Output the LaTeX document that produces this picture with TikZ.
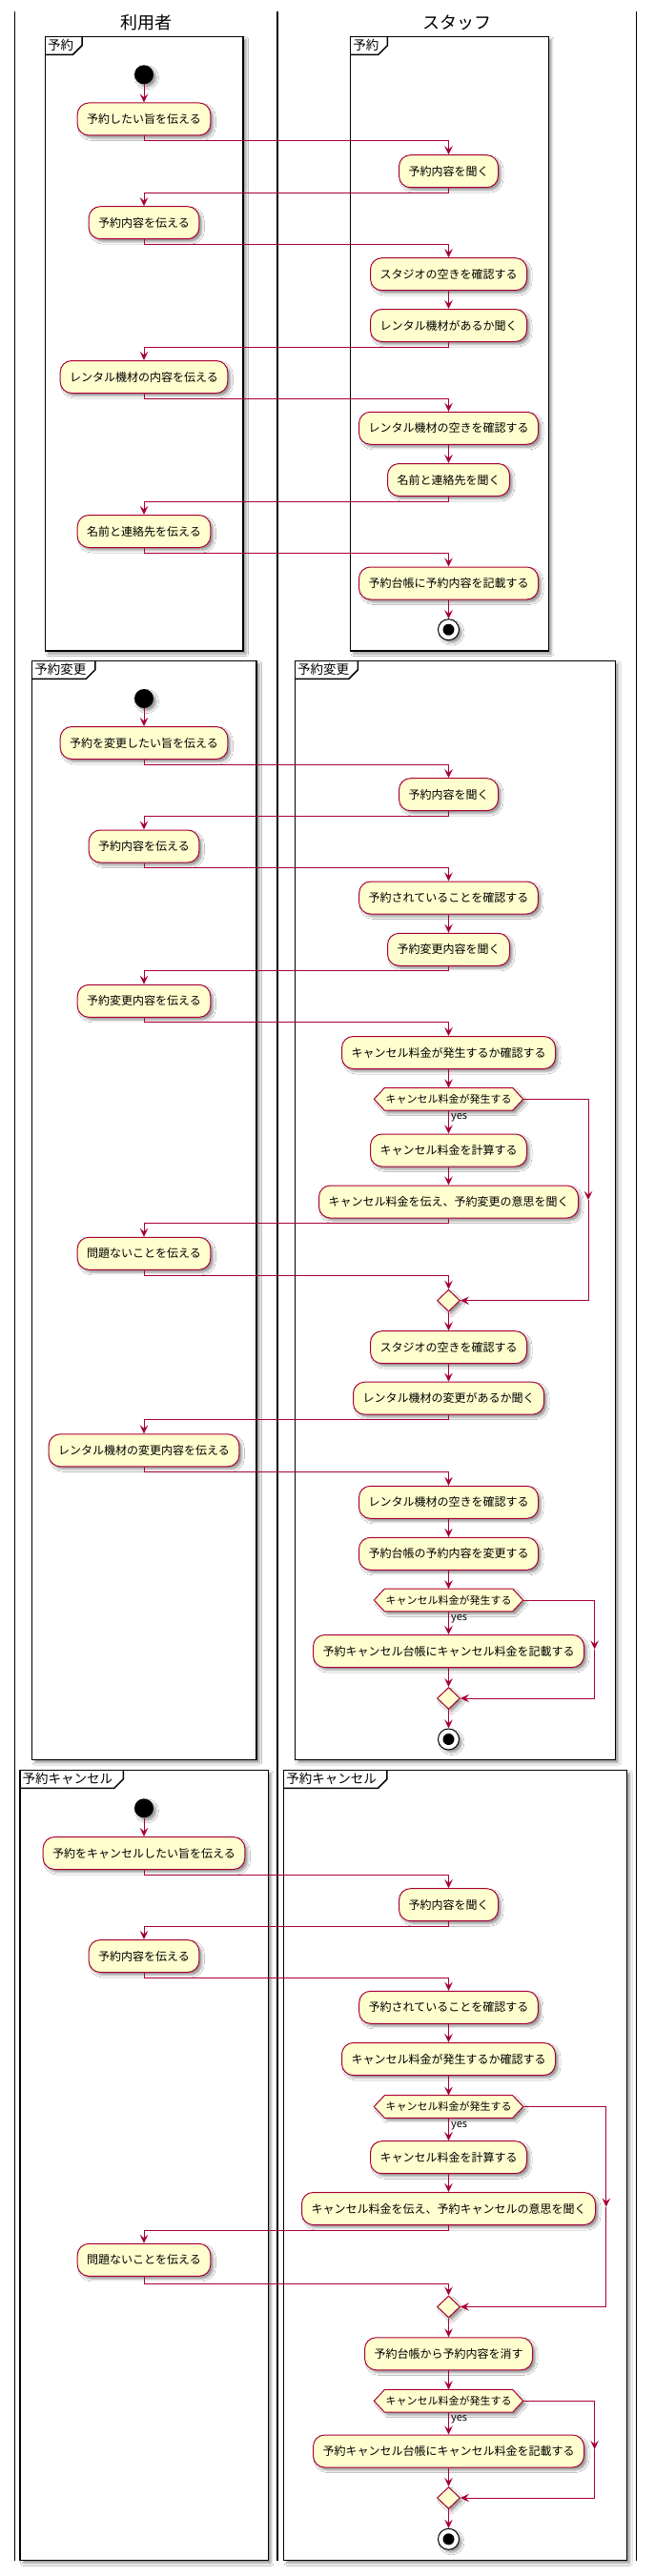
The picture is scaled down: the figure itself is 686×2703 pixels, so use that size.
\documentclass[tikz,border=0pt]{standalone}
\usepackage{fontspec}
\setmainfont{Noto Sans CJK JP}
\usetikzlibrary{arrows.meta,shapes.geometric,shadows.blur,calc}
\definecolor{pbord}{HTML}{A80036}
\definecolor{pfill}{HTML}{FEFECE}
\tikzset{
  x=1pt,y=-1pt,
  sh/.style={blur shadow={shadow xshift=3pt,shadow yshift=-3pt,shadow blur radius=2.5pt,shadow opacity=40}},
  act/.style={draw=pbord,fill=pfill,line width=1pt,rounded corners=12pt,minimum height=34pt,
    inner xsep=10pt,inner ysep=0pt,font=\fontsize{12}{14}\selectfont,text height=10.5pt,text depth=1.5pt,sh},
  flow/.style={draw=pbord,line width=1pt,-{Stealth[length=9pt,width=8.5pt,inset=3.5pt]}},
  dectext/.style={inner xsep=1pt,inner ysep=0pt,minimum height=23.3pt,font=\fontsize{11}{13}\selectfont,
    text height=9.6pt,text depth=1.4pt},
  decshape/.style={draw=pbord,fill=pfill,line width=1pt,sh},
  merge/.style={diamond,draw=pbord,fill=pfill,line width=1pt,minimum width=24pt,minimum height=23pt,inner sep=0pt,sh},
  startdot/.style={circle,fill=black,minimum size=20pt,inner sep=0pt,sh},
  stopdot/.style={circle,draw=black,line width=1pt,fill=white,minimum size=22pt,inner sep=0pt,sh,
    path picture={\fill[black] (path picture bounding box.center) circle[radius=6pt];}},
  yeslab/.style={anchor=west,inner sep=0pt,font=\fontsize{11}{13}\selectfont},
  lanetitle/.style={inner sep=0pt,font=\fontsize{18}{20}\selectfont},
  framelab/.style={anchor=west,inner sep=0pt,font=\fontsize{13.5}{15}\selectfont},
  frameline/.style={draw=black,line width=1.5pt},
  laneline/.style={draw=black,line width=1.5pt},
}
\newcommand\mkdec[3]{%
  \node[dectext] (#1) at (470.5,#2) {\phantom{#3}};
  \coordinate (#1w) at ([xshift=-11pt]#1.west);
  \coordinate (#1e) at ([xshift=11pt]#1.east);
  \draw[decshape] (#1w) -- (#1.north west) -- (#1.north east) -- (#1e) -- (#1.south east) -- (#1.south west) -- cycle;
  \node[dectext] (#1t) at (#1.center) {#3};
  \node[yeslab] (#1y) at ([xshift=2.5pt,yshift=-8pt]#1.south) {yes};
}
\newcommand\mkframe[6]{% left top right bottom tabright label
  \draw[frameline,fill=white,sh] (#1,#2) rectangle (#3,#4);
  \draw[frameline] (#1,#2+19) -- (#5-9.5,#2+19) -- (#5,#2+9.5) -- (#5,#2);
  \node[framelab] at (#1+2.5,#2+9.5) {#6};
}
\begin{document}
\begin{tikzpicture}
\useasboundingbox[fill=white] (0,0) rectangle (686,2703);
% lanes
\draw[laneline] (15.3,12) -- (15.3,2687);
\draw[laneline] (291,12) -- (291,2687);
\draw[laneline] (667.3,12) -- (667.3,2687);
\node[lanetitle] (lt1) at (153.2,24) {利用者};
\node[lanetitle] (lt2) at (479.2,24) {スタッフ};
% frames
\mkframe{47.3}{38.3}{255.1}{683}{86}{予約}
\mkframe{367.6}{38.3}{575.4}{683}{406.3}{予約}
\mkframe{33.7}{693.3}{269.1}{1846.7}{99.8}{予約変更}
\mkframe{309.4}{693.3}{645.5}{1846.7}{375.4}{予約変更}
\mkframe{21}{1857.3}{281.4}{2686.7}{129.3}{予約キャンセル}
\mkframe{297.6}{1857.3}{657.7}{2686.7}{405.9}{予約キャンセル}

% ---------- section 1
\node[startdot] (s1) at (151,78.3) {};
\node[act] (a1) at (151,125) {予約したい旨を伝える};
\node[act] (b1) at (470.5,179.7) {予約内容を聞く};
\node[act] (a2) at (151,233.7) {予約内容を伝える};
\node[act] (b2) at (470.5,287.7) {スタジオの空きを確認する};
\node[act] (b3) at (470.5,341.5) {レンタル機材があるか聞く};
\node[act] (a3) at (151,395.5) {レンタル機材の内容を伝える};
\node[act] (b4) at (470.5,449.3) {レンタル機材の空きを確認する};
\node[act] (b5) at (470.5,503.5) {名前と連絡先を聞く};
\node[act] (a4) at (151,557.5) {名前と連絡先を伝える};
\node[act] (b6) at (470.5,612) {予約台帳に予約内容を記載する};
\node[stopdot] (e1) at (470.5,660.7) {};
\draw[flow] (s1) -- (a1);
\draw[flow] (a1.south) -- ++(0,5) -| (b1.north);
\draw[flow] (b1.south) -- ++(0,5) -| (a2.north);
\draw[flow] (a2.south) -- ++(0,5) -| (b2.north);
\draw[flow] (b2) -- (b3);
\draw[flow] (b3.south) -- ++(0,5) -| (a3.north);
\draw[flow] (a3.south) -- ++(0,5) -| (b4.north);
\draw[flow] (b4) -- (b5);
\draw[flow] (b5.south) -- ++(0,5) -| (a4.north);
\draw[flow] (a4.south) -- ++(0,5) -| (b6.north);
\draw[flow] (b6) -- (e1);

% ---------- section 2
\node[startdot] (s2) at (151,733) {};
\node[act] (c1) at (151,779.5) {予約を変更したい旨を伝える};
\node[act] (d1) at (470.5,833.7) {予約内容を聞く};
\node[act] (c2) at (151,888) {予約内容を伝える};
\node[act] (d2) at (470.5,942) {予約されていることを確認する};
\node[act] (d3) at (470.5,996.3) {予約変更内容を聞く};
\node[act] (c3) at (151,1050.3) {予約変更内容を伝える};
\node[act] (d4) at (470.5,1104.5) {キャンセル料金が発生するか確認する};
\mkdec{q1}{1153.3}{キャンセル料金が発生する}
\node[act] (d5) at (470.5,1207) {キャンセル料金を計算する};
\node[act] (d6) at (470.5,1261) {キャンセル料金を伝え、予約変更の意思を聞く};
\node[act] (c4) at (151,1315.3) {問題ないことを伝える};
\node[merge] (m1) at (470.5,1364.7) {};
\node[act] (d7) at (470.5,1413.7) {スタジオの空きを確認する};
\node[act] (d8) at (470.5,1467.2) {レンタル機材の変更があるか聞く};
\node[act] (c5) at (151,1521.8) {レンタル機材の変更内容を伝える};
\node[act] (d9) at (470.5,1576.3) {レンタル機材の空きを確認する};
\node[act] (d10) at (470.5,1630.3) {予約台帳の予約内容を変更する};
\mkdec{q2}{1679}{キャンセル料金が発生する}
\node[act] (d11) at (470.5,1732.5) {予約キャンセル台帳にキャンセル料金を記載する};
\node[merge] (m2) at (470.5,1782) {};
\node[stopdot] (e2) at (470.5,1825) {};
\coordinate (k1) at (617,1259);
\coordinate (k2) at (623.6,1730.5);
\draw[flow] (s2) -- (c1);
\draw[flow] (c1.south) -- ++(0,5) -| (d1.north);
\draw[flow] (d1.south) -- ++(0,5) -| (c2.north);
\draw[flow] (c2.south) -- ++(0,5) -| (d2.north);
\draw[flow] (d2) -- (d3);
\draw[flow] (d3.south) -- ++(0,5) -| (c3.north);
\draw[flow] (c3.south) -- ++(0,5) -| (d4.north);
\draw[flow] (d4.south) -- (q1.north);
\draw[flow] (q1.south) -- (d5.north);
\draw[flow] (d5) -- (d6);
\draw[flow] (d6.south) -- ++(0,5) -| (c4.north);
\draw[flow] (c4.south) -- ++(0,6) -| (m1.north);
\draw[flow] (q1e) -| (k1);
\draw[flow] (k1) |- (m1.east);
\draw[flow] (m1) -- (d7);
\draw[flow] (d7) -- (d8);
\draw[flow] (d8.south) -- ++(0,5) -| (c5.north);
\draw[flow] (c5.south) -- ++(0,5) -| (d9.north);
\draw[flow] (d9) -- (d10);
\draw[flow] (d10.south) -- (q2.north);
\draw[flow] (q2.south) -- (d11.north);
\draw[flow] (d11) -- (m2);
\draw[flow] (q2e) -| (k2);
\draw[flow] (k2) |- (m2.east);
\draw[flow] (m2) -- (e2);

% ---------- section 3
\node[startdot] (s3) at (151,1897.3) {};
\node[act] (g1) at (151,1944.5) {予約をキャンセルしたい旨を伝える};
\node[act] (h1) at (470.5,1998.7) {予約内容を聞く};
\node[act] (g2) at (151,2052.5) {予約内容を伝える};
\node[act] (h2) at (470.5,2106.3) {予約されていることを確認する};
\node[act] (h3) at (470.5,2160.5) {キャンセル料金が発生するか確認する};
\mkdec{q3}{2210.5}{キャンセル料金が発生する}
\node[act] (h4) at (470.5,2263.7) {キャンセル料金を計算する};
\node[act] (h5) at (470.5,2317.5) {キャンセル料金を伝え、予約キャンセルの意思を聞く};
\node[act] (g3) at (151,2371.3) {問題ないことを伝える};
\node[merge] (m3) at (470.5,2420.5) {};
\node[act] (h6) at (470.5,2469.8) {予約台帳から予約内容を消す};
\mkdec{q4}{2519.3}{キャンセル料金が発生する}
\node[act] (h7) at (470.5,2572) {予約キャンセル台帳にキャンセル料金を記載する};
\node[merge] (m4) at (470.5,2621) {};
\node[stopdot] (e3) at (470.5,2664.3) {};
\coordinate (k3) at (635.8,2315.5);
\coordinate (k4) at (623.6,2570);
\draw[flow] (s3) -- (g1);
\draw[flow] (g1.south) -- ++(0,5) -| (h1.north);
\draw[flow] (h1.south) -- ++(0,5) -| (g2.north);
\draw[flow] (g2.south) -- ++(0,5) -| (h2.north);
\draw[flow] (h2) -- (h3);
\draw[flow] (h3.south) -- (q3.north);
\draw[flow] (q3.south) -- (h4.north);
\draw[flow] (h4) -- (h5);
\draw[flow] (h5.south) -- ++(0,5) -| (g3.north);
\draw[flow] (g3.south) -- ++(0,8) -| (m3.north);
\draw[flow] (q3e) -| (k3);
\draw[flow] (k3) |- (m3.east);
\draw[flow] (m3) -- (h6);
\draw[flow] (h6.south) -- (q4.north);
\draw[flow] (q4.south) -- (h7.north);
\draw[flow] (h7) -- (m4);
\draw[flow] (q4e) -| (k4);
\draw[flow] (k4) |- (m4.east);
\draw[flow] (m4) -- (e3);
\end{tikzpicture}
\end{document}
